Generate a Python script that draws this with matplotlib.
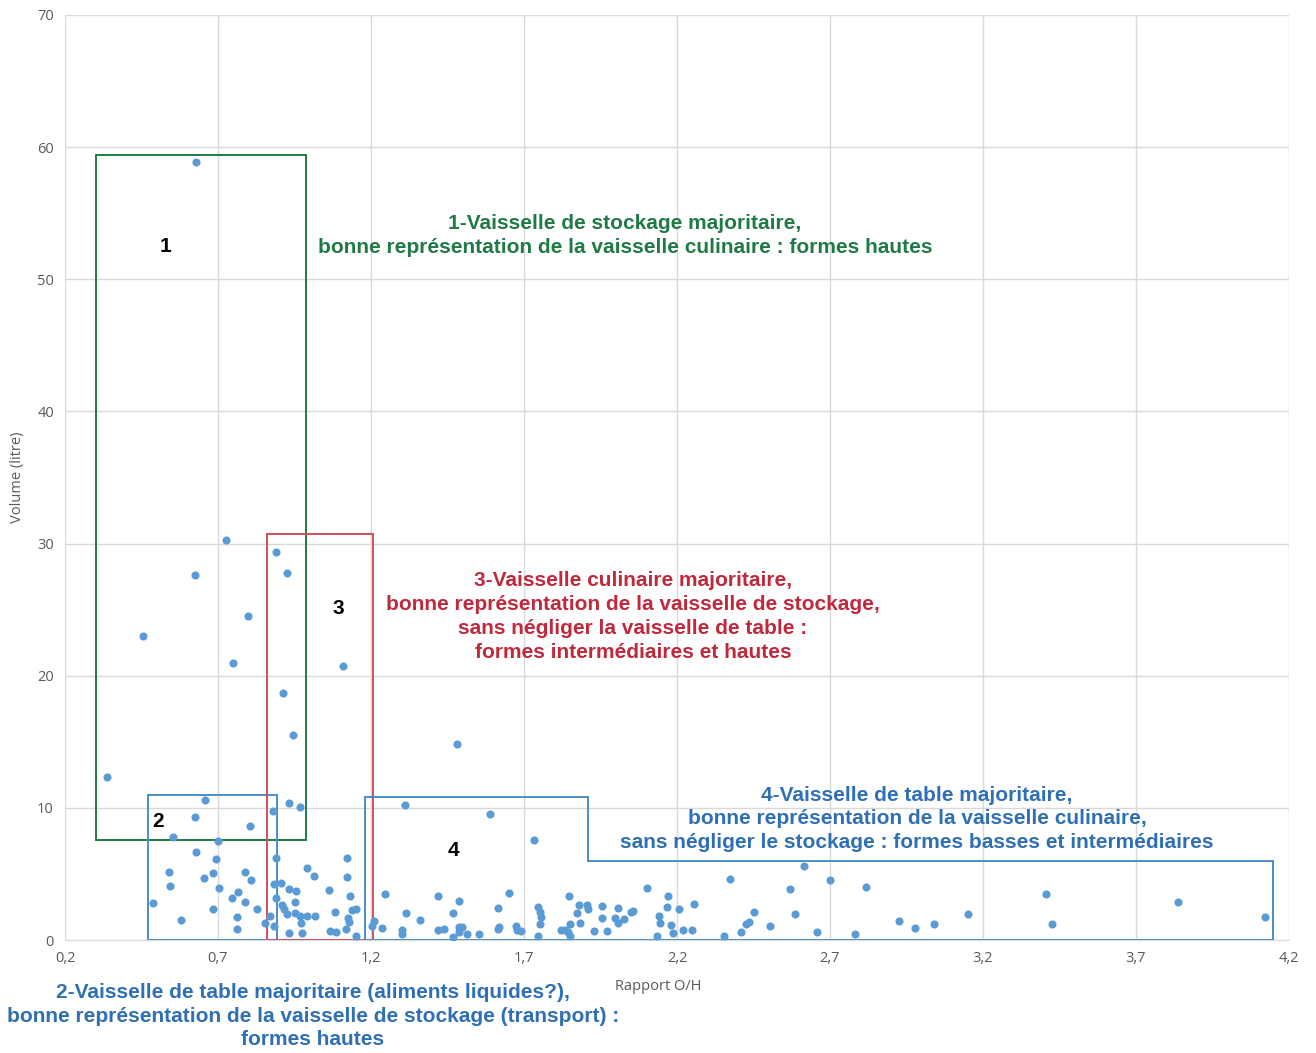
import matplotlib
matplotlib.use("Agg")
import matplotlib.pyplot as plt
from matplotlib.patches import Rectangle, Polygon

# ---- data ----
rapport_oh = [
    0.628, 0.726, 0.625, 0.455, 0.749, 0.798, 0.890, 0.925, 1.108, 0.912,
    0.945, 0.337, 1.481, 0.658, 0.932, 0.968, 0.880, 0.625, 0.805, 0.553,
    1.311, 1.589, 1.733,
    0.699, 0.627, 0.692, 0.889, 1.123, 0.541, 0.684, 0.654, 0.788, 0.807,
    0.992, 1.013, 1.123, 0.544, 0.702, 0.884, 0.905, 0.931, 0.954, 1.064,
    0.764, 0.745, 0.889, 0.789, 0.951, 1.132, 0.488, 0.908, 0.915, 0.826,
    0.684, 0.924, 0.951, 0.968, 0.992, 1.018, 1.139, 1.152, 1.126, 1.082,
    0.870, 0.761, 0.579, 1.129, 0.972, 0.854, 0.883, 0.761, 1.065, 1.085,
    1.119, 0.931, 0.975, 1.150, 1.211, 1.237, 1.204, 1.247,
    1.419, 1.487, 1.650, 1.313, 1.360, 1.468, 1.616, 1.301, 1.301, 1.418,
    1.439, 1.468, 1.487, 1.496, 1.489, 1.513, 1.553, 1.614, 1.619, 1.673,
    1.678, 1.690, 1.747, 1.752, 1.754, 1.752, 1.747, 1.820, 1.834, 1.847,
    1.880, 1.905, 1.910, 1.874, 1.884, 1.850, 1.844, 1.850, 1.956, 1.956,
    1.970, 1.929, 2.006, 1.998, 2.006, 2.028, 2.049, 2.057, 2.103, 2.170,
    2.166, 2.140, 2.144, 2.136,
    2.208, 2.256, 2.179, 2.186, 2.219, 2.249, 2.353, 2.373, 2.410, 2.424,
    2.435, 2.453, 2.504, 2.569, 2.586, 2.616, 2.659, 2.700, 2.781, 2.818,
    2.926, 2.978, 3.040, 3.152,
    3.406, 3.426, 3.836, 4.122,
]
volume_litre = [
    58.9, 30.3, 27.6, 23.0, 21.0, 24.5, 29.4, 27.8, 20.7, 18.7,
    15.5, 12.3, 14.8, 10.6, 10.4, 10.1, 9.8, 9.3, 8.6, 7.8,
    10.2, 9.5, 7.6,
    7.5, 6.64, 6.16, 6.23, 6.23, 5.12, 5.05, 4.72, 5.12, 4.57,
    5.43, 4.87, 4.79, 4.09, 3.91, 4.21, 4.34, 3.86, 3.71, 3.76,
    3.63, 3.2, 3.2, 2.9, 2.9, 3.35, 2.8, 2.65, 2.32, 2.35,
    2.35, 1.94, 2.02, 1.82, 1.82, 1.82, 2.27, 2.35, 1.69, 2.09,
    1.84, 1.72, 1.54, 1.39, 1.31, 1.31, 1.06, 0.83, 0.68, 0.61,
    0.81, 0.51, 0.55, 0.3, 1.44, 0.93, 1.06, 3.46,
    3.31, 2.98, 3.53, 2.02, 1.54, 2.02, 2.42, 0.78, 0.43, 0.73,
    0.81, 0.23, 0.96, 1.01, 0.63, 0.48, 0.43, 0.83, 0.96, 1.06,
    0.78, 0.70, 2.50, 2.14, 1.76, 1.21, 0.30, 0.73, 0.78, 3.31,
    2.63, 2.65, 2.32, 2.02, 1.31, 1.19, 0.63, 0.28, 2.57, 1.64,
    0.70, 0.66, 2.42, 1.64, 1.26, 1.57, 2.12, 2.22, 3.91, 3.33,
    2.47, 1.79, 1.26, 0.28,
    2.32, 2.73, 1.16, 0.55, 0.73, 0.73, 0.28, 4.64, 0.58, 1.23,
    1.39, 2.14, 1.08, 3.83, 1.95, 5.6, 0.58, 4.54, 0.48, 4.01,
    1.44, 0.91, 1.23, 1.95,
    3.5, 1.21, 2.85, 1.76,
]

x_ticks = [0.2, 0.7, 1.2, 1.7, 2.2, 2.7, 3.2, 3.7, 4.2]
x_tick_labels = ["0,2", "0,7", "1,2", "1,7", "2,2", "2,7", "3,2", "3,7", "4,2"]
y_ticks = [0, 10, 20, 30, 40, 50, 60, 70]

# group boxes (data units)
box1 = (0.301, 7.57, 0.988, 59.4)   # x0, y0, x1, y1
box2 = (0.471, 0.0, 0.893, 10.98)
box3 = (0.860, 0.0, 1.207, 30.7)
box4_x = [1.180, 1.180, 1.909, 1.909, 4.148, 4.148]
box4_y = [0.0, 10.83, 10.83, 5.98, 5.98, 0.0]

text1 = "1-Vaisselle de stockage majoritaire,\nbonne représentation de la vaisselle culinaire : formes hautes"
text2 = "2-Vaisselle de table majoritaire (aliments liquides?),\nbonne représentation de la vaisselle de stockage (transport) :\nformes hautes"
text3 = "3-Vaisselle culinaire majoritaire,\nbonne représentation de la vaisselle de stockage,\nsans négliger la vaisselle de table :\nformes intermédiaires et hautes"
text4 = "4-Vaisselle de table majoritaire,\nbonne représentation de la vaisselle culinaire,\nsans négliger le stockage : formes basses et intermédiaires"

GREEN = "#1f7a45"
RED = "#c0283c"
BLUE = "#2f6fb5"
BOXBLUE = "#4b8dc5"
DOT = "#5b9bd5"

fig = plt.figure(figsize=(13.16, 10.53), dpi=100)
ax = fig.add_axes([65/1316, 1 - 940/1053, (1289-65)/1316, (940-15)/1053])

ax.scatter(rapport_oh, volume_litre, s=34, color=DOT, zorder=3, linewidths=0)

ax.set_xlim(0.2, 4.2)
ax.set_ylim(0, 70)
ax.set_xticks(x_ticks)
ax.set_xticklabels(x_tick_labels)
ax.set_yticks(y_ticks)
ax.grid(True, color="#d9d9d9", linewidth=1.0, zorder=0)
ax.set_axisbelow(True)
for s in ["top", "right", "left"]:
    ax.spines[s].set_visible(False)
ax.spines["bottom"].set_color("#d9d9d9")
ax.tick_params(length=0, labelsize=10.5, colors="#595959", pad=8)
for lab in ax.get_xticklabels() + ax.get_yticklabels():
    lab.set_family("Open Sans")

ax.set_ylabel("Volume (litre)", fontsize=10.5, color="#595959", family="Open Sans")
ax.set_xlabel("Rapport O/H", fontsize=10.5, color="#595959", family="Open Sans")
ax.yaxis.set_label_coords((18 - 65) / 1224, 0.5)
ax.xaxis.set_label_coords((658 - 65) / 1224, -(987 - 940) / 925)
ax.xaxis.label.set_va("center")
ax.yaxis.label.set_va("center")

def rect(b, color):
    ax.add_patch(Rectangle((b[0], b[1]), b[2]-b[0], b[3]-b[1], fill=False,
                           edgecolor=color, linewidth=1.4, zorder=2, clip_on=False))

rect(box1, GREEN)
rect(box2, BOXBLUE)
rect(box3, "#d0505e")
ax.add_patch(Polygon(list(zip(box4_x, box4_y)), closed=True, fill=False,
                     edgecolor=BOXBLUE, linewidth=1.4, zorder=2, clip_on=False))

tkw = dict(family="Liberation Sans", fontweight="bold", fontsize=15,
           ha="center", va="center", linespacing=1.33)
ax.text(2.030, 53.3, text1, color=GREEN, **tkw)
ax.text(2.056, 24.5, text3, color=RED, **tkw)
ax.text(2.984, 9.16, text4, color=BLUE, **tkw)
fig.text(313/1316, 1 - 1016/1053, text2, color=BLUE, **tkw)

nkw = dict(family="Liberation Sans", fontweight="bold", fontsize=15,
           ha="center", va="center", color="black")
ax.text(0.527, 52.5, "1", **nkw)
ax.text(0.504, 9.0, "2", **nkw)
ax.text(1.092, 25.06, "3", **nkw)
ax.text(1.471, 6.81, "4", **nkw)

fig.savefig("out.png", dpi=100, facecolor="white")
